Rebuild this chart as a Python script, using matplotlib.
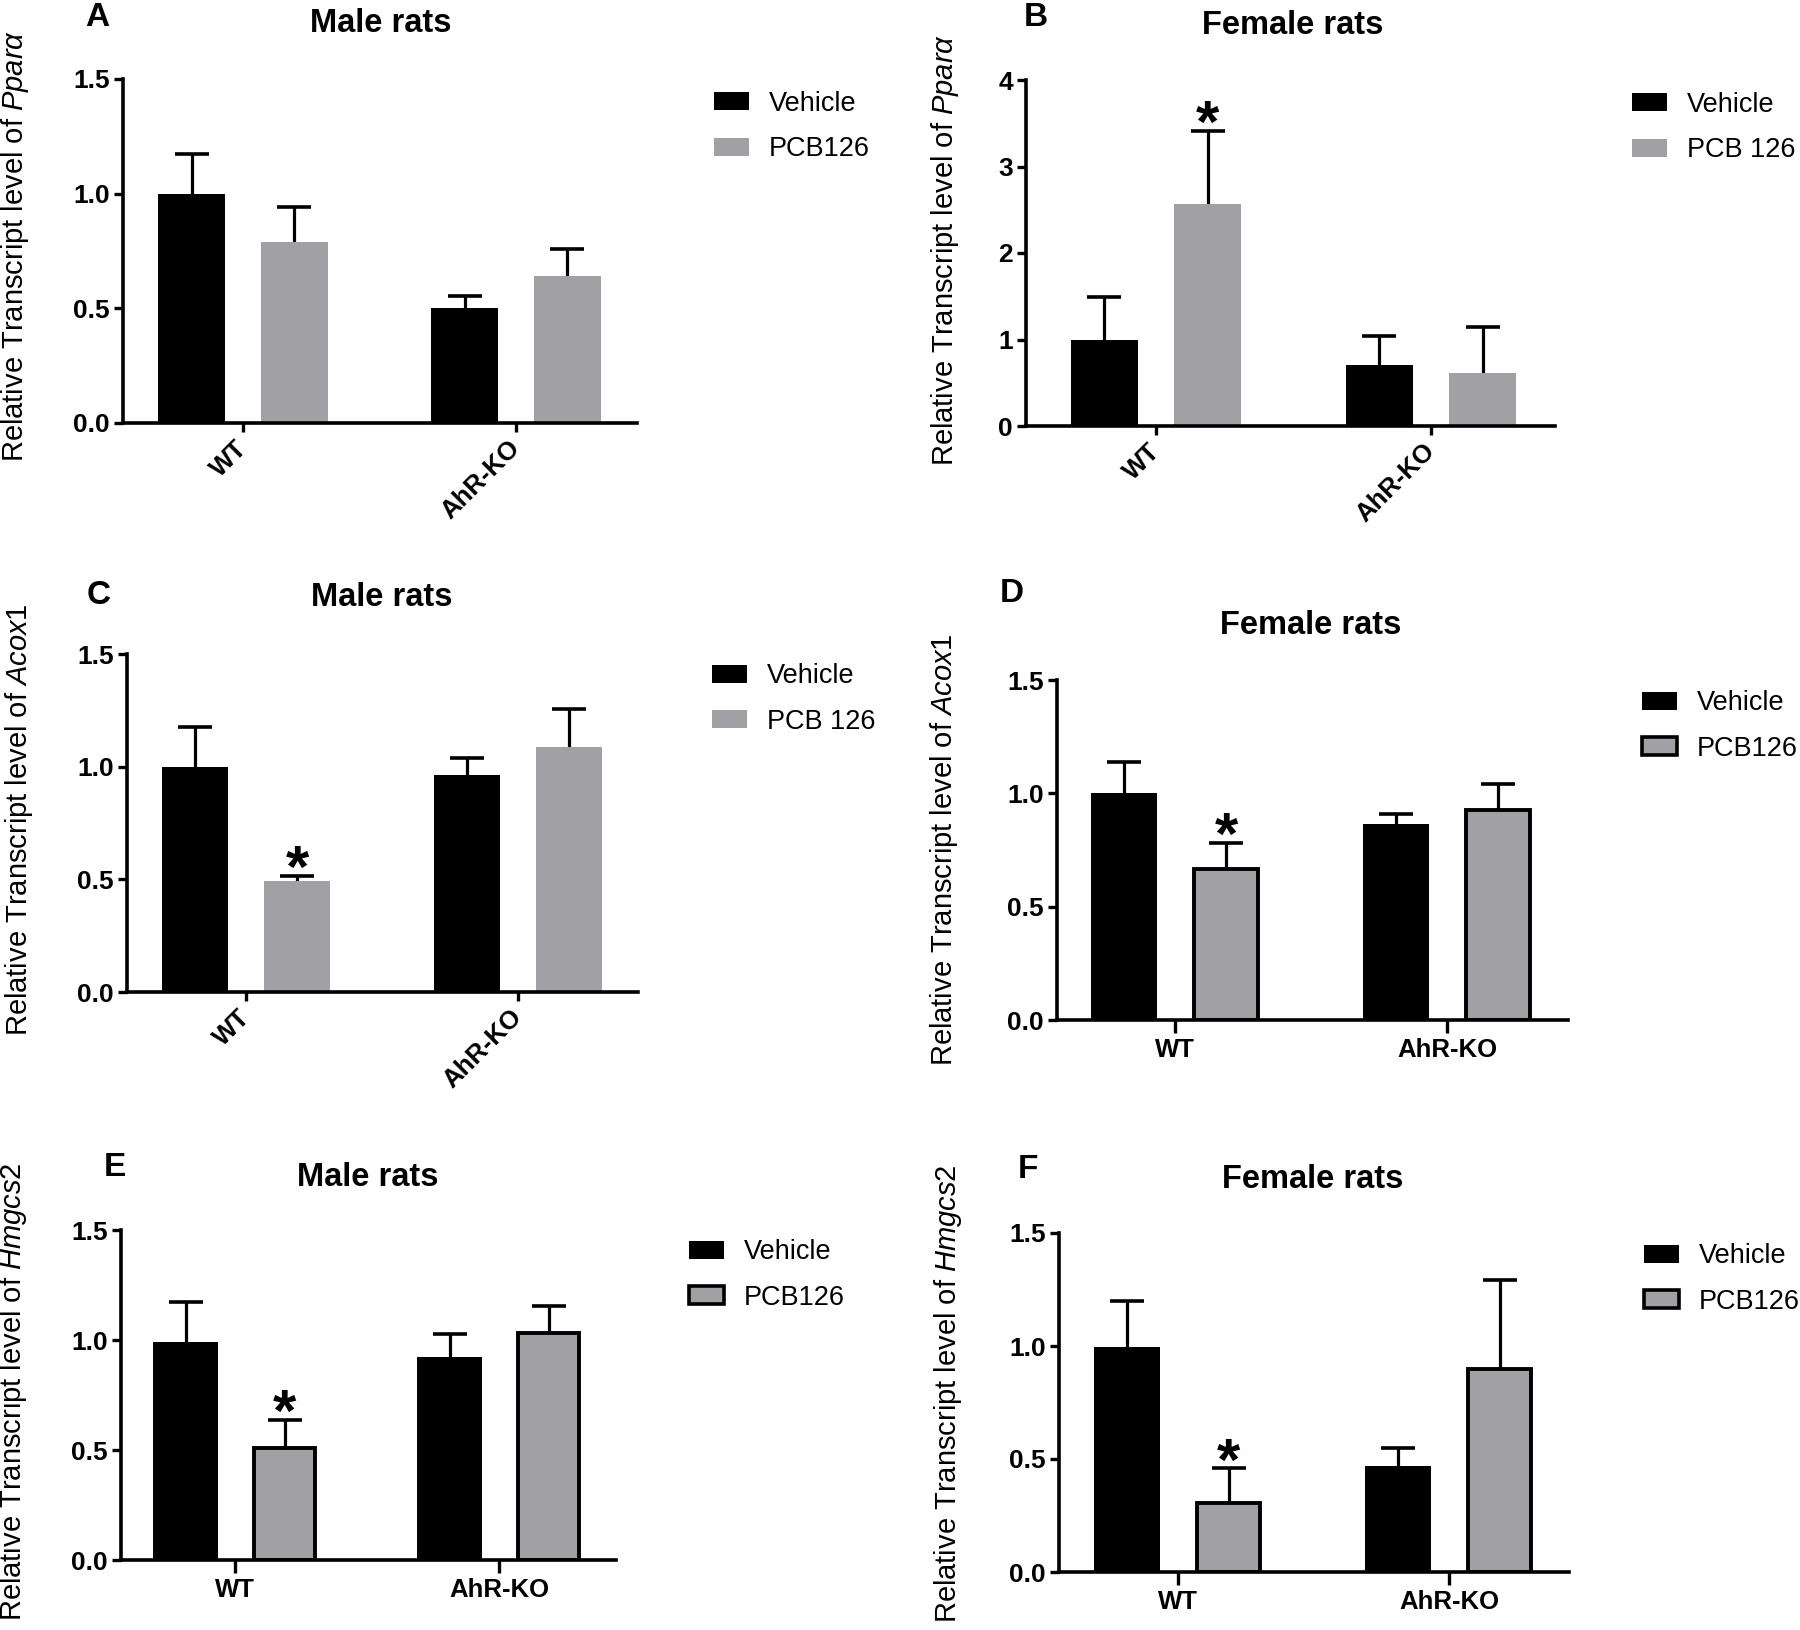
import numpy as np
import matplotlib
matplotlib.use('Agg')
import matplotlib.pyplot as plt
from matplotlib.patches import Patch

plt.rcParams['font.family'] = ['Liberation Sans', 'DejaVu Sans']
plt.rcParams['mathtext.fontset'] = 'custom'
plt.rcParams['mathtext.rm'] = 'Liberation Sans'
plt.rcParams['mathtext.it'] = 'Liberation Sans:italic'

groups = ['WT', 'AhR-KO']

# bar means and tops of the error bars (mean + SEM)
# A: Ppara, male
ppara_m_veh = [1.00, 0.50]
ppara_m_veh_top = [1.175, 0.552]
ppara_m_pcb = [0.79, 0.642]
ppara_m_pcb_top = [0.94, 0.76]
# B: Ppara, female
ppara_f_veh = [1.00, 0.70]
ppara_f_veh_top = [1.49, 1.04]
ppara_f_pcb = [2.57, 0.61]
ppara_f_pcb_top = [3.41, 1.14]
# C: Acox1, male
acox1_m_veh = [1.00, 0.962]
acox1_m_veh_top = [1.177, 1.038]
acox1_m_pcb = [0.491, 1.089]
acox1_m_pcb_top = [0.515, 1.254]
# D: Acox1, female
acox1_f_veh = [1.00, 0.866]
acox1_f_veh_top = [1.137, 0.909]
acox1_f_pcb = [0.664, 0.927]
acox1_f_pcb_top = [0.781, 1.042]
# E: Hmgcs2, male
hmgcs2_m_veh = [0.993, 0.923]
hmgcs2_m_veh_top = [1.173, 1.029]
hmgcs2_m_pcb = [0.509, 1.032]
hmgcs2_m_pcb_top = [0.637, 1.153]
# F: Hmgcs2, female
hmgcs2_f_veh = [0.996, 0.468]
hmgcs2_f_veh_top = [1.199, 0.547]
hmgcs2_f_pcb = [0.306, 0.90]
hmgcs2_f_pcb_top = [0.459, 1.292]

# which PCB bars get a star (one flag per group)
star_a = [False, False]
star_b = [True, False]
star_c = [True, False]
star_d = [True, False]
star_e = [True, False]
star_f = [True, False]

W, H = 1800, 1630
fig = plt.figure(figsize=(18, 16.3), dpi=100)

BLACK = '#000000'
GREY = '#a1a1a5'
bar_w = 0.245
off = 0.1875


def fx(x):
    return x / W


def fy(y):
    return 1 - y / H


def panel(letter, title, gene, veh, veh_top, pcb, pcb_top, stars, pcb_label,
          lay, ymax, yticks, ytl, rotated, edged):
    left, right, top, zero, t0, t1 = lay['box']
    ax = fig.add_axes([fx(left), fy(zero), (right - left) / W, (zero - top) / H])
    sp = t1 - t0
    ax.set_xlim((left - t0) / sp, (right - t0) / sp)
    ax.set_ylim(0, ymax)
    x = np.arange(len(groups))

    veh = np.array(veh)
    pcb = np.array(pcb)
    ax.bar(x - off, veh, bar_w, color=BLACK, zorder=2)
    if edged:
        ax.bar(x + off, pcb, bar_w - 0.012, color=GREY, edgecolor=BLACK,
               linewidth=2.8, zorder=2)
    else:
        ax.bar(x + off, pcb, bar_w, color=GREY, zorder=2)
    # upper-only error bars
    for xs, m, t in ((x - off, veh, veh_top), (x + off, pcb, pcb_top)):
        up = np.array(t) - m
        eb = ax.errorbar(xs, m, yerr=[np.zeros_like(up), up], fmt='none',
                         ecolor=BLACK, elinewidth=2.3, capsize=12,
                         capthick=2.6, zorder=1)
        eb[1][0].set_visible(False)

    for i, s in enumerate(stars):
        if s:
            ax.annotate('*', xy=(x[i] + off, pcb_top[i]), xytext=(0, -8),
                        textcoords='offset points', ha='center', va='baseline',
                        fontsize=43, fontweight='bold')

    for s in ('top', 'right'):
        ax.spines[s].set_visible(False)
    for s in ('left', 'bottom'):
        ax.spines[s].set_linewidth(2.6)
    ax.set_yticks(yticks)
    ax.set_yticklabels(ytl, fontsize=19, fontweight='bold')
    ax.tick_params(axis='y', length=6.5, width=2.4, pad=3)
    ax.set_xticks(x)
    if rotated:
        ax.set_xticklabels(groups, fontsize=18.5, fontweight='bold', rotation=45,
                           ha='right', va='center', rotation_mode='anchor')
        ax.tick_params(axis='x', length=6.5, width=2.4, pad=9)
    else:
        ax.set_xticklabels(groups, fontsize=18.5, fontweight='bold')
        ax.tick_params(axis='x', length=9, width=2.4, pad=4)

    ax.set_ylabel('Relative Transcript level of $\\mathit{' + gene + '}$',
                  fontsize=21, va='center')
    ylab_x, ylab_y = lay['ylab']
    ax.yaxis.set_label_coords((ylab_x - left) / (right - left),
                              (zero - ylab_y) / (zero - top))

    fig.text(fx(lay['title'][0]), fy(lay['title'][1]), title, fontsize=23.5,
             fontweight='bold', ha='center', va='center')
    fig.text(fx(lay['letter'][0]), fy(lay['letter'][1]), letter, fontsize=24,
             fontweight='bold', ha='left', va='center')

    handles = [Patch(facecolor=BLACK, edgecolor=BLACK, linewidth=0),
               Patch(facecolor=GREY, edgecolor=BLACK,
                     linewidth=2.6 if edged else 0)]
    lx, c1, c2 = lay['legend']
    ax.legend(handles, ['Vehicle', pcb_label], loc='center left',
              bbox_to_anchor=(fx(lx), fy((c1 + c2) / 2)),
              bbox_transform=fig.transFigure, frameon=False, fontsize=19.5,
              handlelength=1.3, handleheight=0.65, handletextpad=0.72,
              labelspacing=0.72, borderpad=0, borderaxespad=0)
    return ax


# layout in reference pixels: box = left, right, y of ymax, y of 0, tick0, tick1
lay_a = {'box': (123, 637, 79, 423, 243, 516), 'ylab': (15, 246), 'title': (381, 24),
         'letter': (85, 17), 'legend': (714, 103, 150)}
lay_b = {'box': (1026, 1555, 80, 426, 1156, 1431), 'ylab': (945, 250), 'title': (1293, 25),
         'letter': (1024, 18), 'legend': (1632, 104, 151)}
lay_c = {'box': (127, 638, 654, 992, 246, 518), 'ylab': (19, 820), 'title': (382, 598),
         'letter': (87, 596), 'legend': (712, 676, 722)}
lay_d = {'box': (1057, 1568, 680, 1020, 1175, 1447), 'ylab': (944, 850), 'title': (1311, 625),
         'letter': (1000, 594), 'legend': (1642, 703, 749)}
lay_e = {'box': (121, 616, 1230, 1560, 235, 499), 'ylab': (13, 1392), 'title': (368, 1177),
         'letter': (104, 1168), 'legend': (689, 1252, 1298)}
lay_f = {'box': (1059, 1569, 1233, 1572, 1178, 1449), 'ylab': (948, 1394), 'title': (1313, 1179),
         'letter': (1018, 1170), 'legend': (1644, 1256, 1302)}

t15 = [0, 0.5, 1.0, 1.5]
t15l = ['0.0', '0.5', '1.0', '1.5']

panel('A', 'Male rats', 'Ppar\\alpha', ppara_m_veh, ppara_m_veh_top, ppara_m_pcb,
      ppara_m_pcb_top, star_a, 'PCB126', lay_a, 1.5, t15, t15l, True, False)
panel('B', 'Female rats', 'Ppar\\alpha', ppara_f_veh, ppara_f_veh_top, ppara_f_pcb,
      ppara_f_pcb_top, star_b, 'PCB 126', lay_b, 4, [0, 1, 2, 3, 4],
      ['0', '1', '2', '3', '4'], True, False)
panel('C', 'Male rats', 'Acox1', acox1_m_veh, acox1_m_veh_top, acox1_m_pcb,
      acox1_m_pcb_top, star_c, 'PCB 126', lay_c, 1.5, t15, t15l, True, False)
panel('D', 'Female rats', 'Acox1', acox1_f_veh, acox1_f_veh_top, acox1_f_pcb,
      acox1_f_pcb_top, star_d, 'PCB126', lay_d, 1.5, t15, t15l, False, True)
panel('E', 'Male rats', 'Hmgcs2', hmgcs2_m_veh, hmgcs2_m_veh_top, hmgcs2_m_pcb,
      hmgcs2_m_pcb_top, star_e, 'PCB126', lay_e, 1.5, t15, t15l, False, True)
panel('F', 'Female rats', 'Hmgcs2', hmgcs2_f_veh, hmgcs2_f_veh_top, hmgcs2_f_pcb,
      hmgcs2_f_pcb_top, star_f, 'PCB126', lay_f, 1.5, t15, t15l, False, True)

fig.savefig('out.png', dpi=100)
